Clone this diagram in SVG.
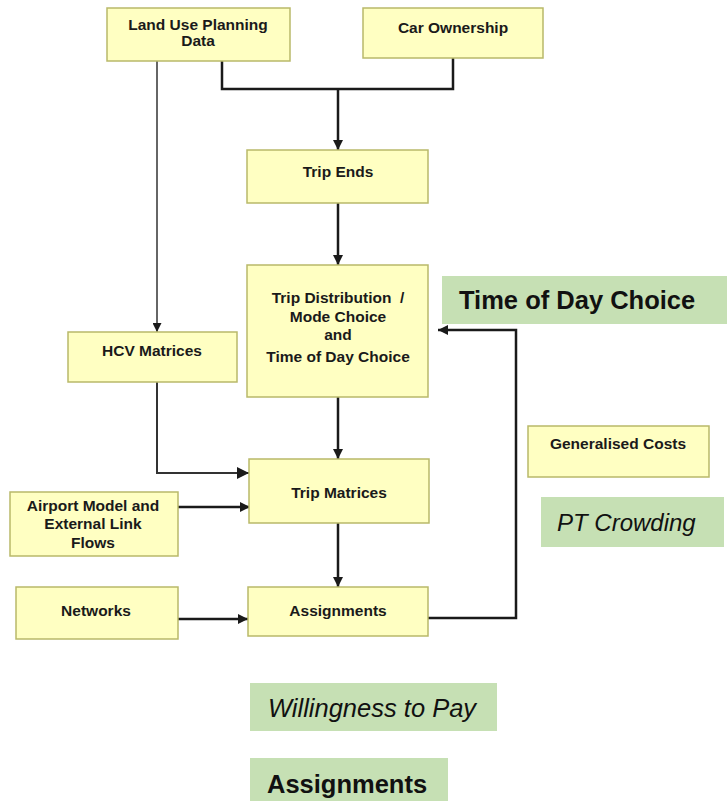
<svg xmlns="http://www.w3.org/2000/svg" width="727" height="801" viewBox="0 0 727 801">
<style>
.box{fill:#ffffc2;stroke:#b9b96a;stroke-width:1.5}
.gbox{fill:#c6e0b4;stroke:none}
.t{font-family:"Liberation Sans",Arial,sans-serif;font-weight:bold;font-size:15.5px;fill:#1a1a1a;text-anchor:middle}
.g{font-family:"Liberation Sans",Arial,sans-serif;font-size:25.5px;fill:#111}
.ln{fill:none;stroke:#1a1a1a;stroke-width:2.5}
.thin{fill:none;stroke:#333;stroke-width:1.5}
</style>
<defs>
<marker id="ah" viewBox="0 0 10 10" refX="10" refY="5" markerWidth="4" markerHeight="4" orient="auto" markerUnits="strokeWidth">
<path d="M0,0 L10,5 L0,10 z" fill="#1a1a1a"/>
</marker>
<marker id="ah2" viewBox="0 0 10 10" refX="10" refY="5" markerWidth="6" markerHeight="6" orient="auto" markerUnits="strokeWidth">
<path d="M0,0 L10,5 L0,10 z" fill="#1a1a1a"/>
</marker>
</defs>
<g id="connectors">
<path class="ln" d="M222,61 V89 H453 V58"/>
<path class="ln" d="M338,89 V150" marker-end="url(#ah)"/>
<path class="ln" d="M338,203 V265" marker-end="url(#ah)"/>
<path class="thin" d="M157,61 V332" marker-end="url(#ah2)"/>
<path class="ln" d="M338,397 V459" marker-end="url(#ah)"/>
<path class="thin" d="M157,382 V473 H249" marker-end="url(#ah2)" style="stroke-width:2"/>
<path class="ln" d="M178,507 H250" marker-end="url(#ah)"/>
<path class="ln" d="M338,523 V587" marker-end="url(#ah)"/>
<path class="ln" d="M178,619 H248" marker-end="url(#ah)"/>
<path class="ln" d="M428,618 H516 V330 H438" marker-end="url(#ah)"/>
</g>
<g id="land-use">
<rect class="box" x="107" y="8" width="183" height="53"/>
<text class="t" x="198" y="30">Land Use Planning</text>
<text class="t" x="198" y="46">Data</text>
</g>
<g id="car-ownership">
<rect class="box" x="363" y="8" width="180" height="50"/>
<text class="t" x="453" y="33">Car Ownership</text>
</g>
<g id="trip-ends">
<rect class="box" x="247" y="150" width="181" height="53"/>
<text class="t" x="338" y="177">Trip Ends</text>
</g>
<g id="trip-distribution">
<rect class="box" x="247" y="265" width="181" height="132"/>
<text class="t" x="338" y="303">Trip Distribution&#160; /</text>
<text class="t" x="338" y="322">Mode Choice</text>
<text class="t" x="338" y="340">and</text>
<text class="t" x="338" y="362">Time of Day Choice</text>
</g>
<g id="hcv">
<rect class="box" x="68" y="332" width="169" height="50"/>
<text class="t" x="152" y="356">HCV Matrices</text>
</g>
<g id="trip-matrices">
<rect class="box" x="249" y="459" width="180" height="64"/>
<text class="t" x="339" y="498">Trip Matrices</text>
</g>
<g id="airport">
<rect class="box" x="10" y="492" width="168" height="64"/>
<text class="t" x="93" y="511">Airport Model and</text>
<text class="t" x="93" y="529">External Link</text>
<text class="t" x="93" y="548">Flows</text>
</g>
<g id="networks">
<rect class="box" x="16" y="587" width="162" height="52"/>
<text class="t" x="96" y="616">Networks</text>
</g>
<g id="assignments">
<rect class="box" x="248" y="587" width="180" height="49"/>
<text class="t" x="338" y="616">Assignments</text>
</g>
<g id="generalised-costs">
<rect class="box" x="528" y="426" width="181" height="51"/>
<text class="t" x="618" y="449">Generalised Costs</text>
</g>
<g id="label-time-of-day">
<rect class="gbox" x="442" y="276" width="285" height="48"/>
<text class="g" x="459" y="309" font-weight="bold">Time of Day Choice</text>
</g>
<g id="label-pt-crowding">
<rect class="gbox" x="541" y="497" width="183" height="50"/>
<text class="g" x="557" y="531" font-style="italic" style="font-size:24px">PT Crowding</text>
</g>
<g id="label-wtp">
<rect class="gbox" x="250" y="683" width="247" height="48"/>
<text class="g" x="268" y="717" font-style="italic">Willingness to Pay</text>
</g>
<g id="label-assignments">
<rect class="gbox" x="250" y="758" width="198" height="43"/>
<text class="g" x="267" y="793" font-weight="bold">Assignments</text>
</g>
</svg>
